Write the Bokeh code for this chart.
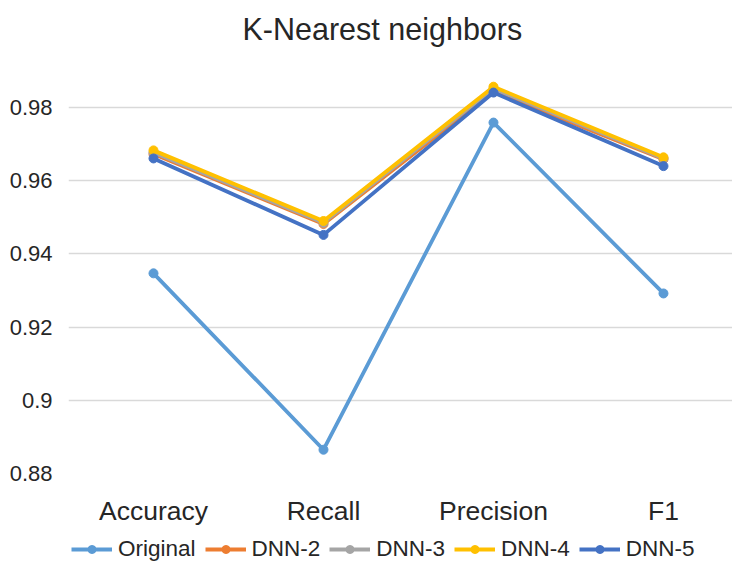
from bokeh.plotting import figure
from bokeh.layouts import column
from bokeh.models import (Range1d, FixedTicker, Legend, LegendItem, ColumnDataSource)
from bokeh.embed import file_html
from bokeh.resources import INLINE

title = "K-Nearest neighbors"
categories = ["Accuracy", "Recall", "Precision", "F1"]
series_names = ["Original", "DNN-2", "DNN-3", "DNN-4", "DNN-5"]
original = [0.9347, 0.8865, 0.9759, 0.9292]
dnn2 = [0.9673, 0.9482, 0.9843, 0.9659]
dnn3 = [0.9677, 0.9485, 0.9852, 0.9661]
dnn4 = [0.9683, 0.9490, 0.9857, 0.9664]
dnn5 = [0.9661, 0.9452, 0.9841, 0.9640]
series_values = [original, dnn2, dnn3, dnn4, dnn5]
colors = ["#5B9BD5", "#ED7D31", "#A5A5A5", "#FFC000", "#4472C4"]
y_ticks = [0.88, 0.90, 0.92, 0.94, 0.96, 0.98]
y_tick_labels = ["0.88", "0.9", "0.92", "0.94", "0.96", "0.98"]

FONT = "Liberation Sans"
TXT = "#262626"

x_idx = list(range(len(categories)))

p = figure(width=732, height=530, output_backend="svg", toolbar_location=None,
           x_range=Range1d(-0.5, 3.406), y_range=Range1d(0.88, 0.9945),
           min_border_left=68, min_border_right=0, min_border_top=54,
           min_border_bottom=57, title=title)
p.outline_line_color = None
p.background_fill_color = "white"
p.border_fill_color = "white"

p.title.text_font = FONT
p.title.text_font_size = "30.5px"
p.title.text_font_style = "normal"
p.title.text_color = TXT
p.title.align = "left"
p.title.offset = 174
p.title.standoff = 18

# x axis
p.xaxis.ticker = FixedTicker(ticks=x_idx)
p.xaxis.major_label_overrides = {i: c for i, c in zip(x_idx, categories)}
p.xaxis.axis_line_color = None
p.xaxis.major_tick_line_color = None
p.xaxis.minor_tick_line_color = None
p.xaxis.major_label_text_font = FONT
p.xaxis.major_label_text_font_size = "26.5px"
p.xaxis.major_label_text_color = TXT
p.xaxis.major_label_standoff = 16
p.xgrid.grid_line_color = None

# y axis
p.yaxis.ticker = FixedTicker(ticks=y_ticks)
p.yaxis.major_label_overrides = {t: l for t, l in zip(y_ticks, y_tick_labels)}
p.yaxis.axis_line_color = None
p.yaxis.major_tick_line_color = None
p.yaxis.minor_tick_line_color = None
p.yaxis.major_label_text_font = FONT
p.yaxis.major_label_text_font_size = "22px"
p.yaxis.major_label_text_color = TXT
p.yaxis.major_label_standoff = 10
p.ygrid.ticker = FixedTicker(ticks=y_ticks)
p.ygrid.grid_line_color = "#D9D9D9"
p.ygrid.grid_line_width = 1.5

# legend strip below the chart
lf = figure(width=732, height=45, output_backend="svg", toolbar_location=None,
            x_range=Range1d(-0.5, 3.406), y_range=Range1d(2.0, 3.0),
            min_border_left=0, min_border_right=0, min_border_top=0,
            min_border_bottom=0)
lf.axis.visible = False
lf.grid.visible = False
lf.outline_line_color = None
lf.background_fill_color = "white"
lf.border_fill_color = "white"

items = []
for name, vals, col in zip(series_names, series_values, colors):
    src = ColumnDataSource(dict(x=x_idx, y=vals))
    p.line("x", "y", source=src, line_color=col, line_width=3.8)
    p.scatter("x", "y", source=src, marker="circle", size=9,
              fill_color=col, line_color=col)
    ln = lf.line("x", "y", source=src, line_color=col, line_width=3.8)
    sc = lf.scatter("x", "y", source=src, marker="circle", size=9,
                    fill_color=col, line_color=col)
    items.append(LegendItem(label=name, renderers=[ln, sc]))

legend = Legend(items=items, orientation="horizontal", location=(3, 13),
                label_text_font=FONT, label_text_font_size="22.5px",
                label_text_color=TXT, glyph_width=41, glyph_height=20,
                label_standoff=6, spacing=9, padding=4, margin=0,
                border_line_color=None, background_fill_alpha=0)
lf.add_layout(legend, "center")

layout = column(p, lf, spacing=0)
open("out.html", "w").write(file_html(layout, INLINE))
